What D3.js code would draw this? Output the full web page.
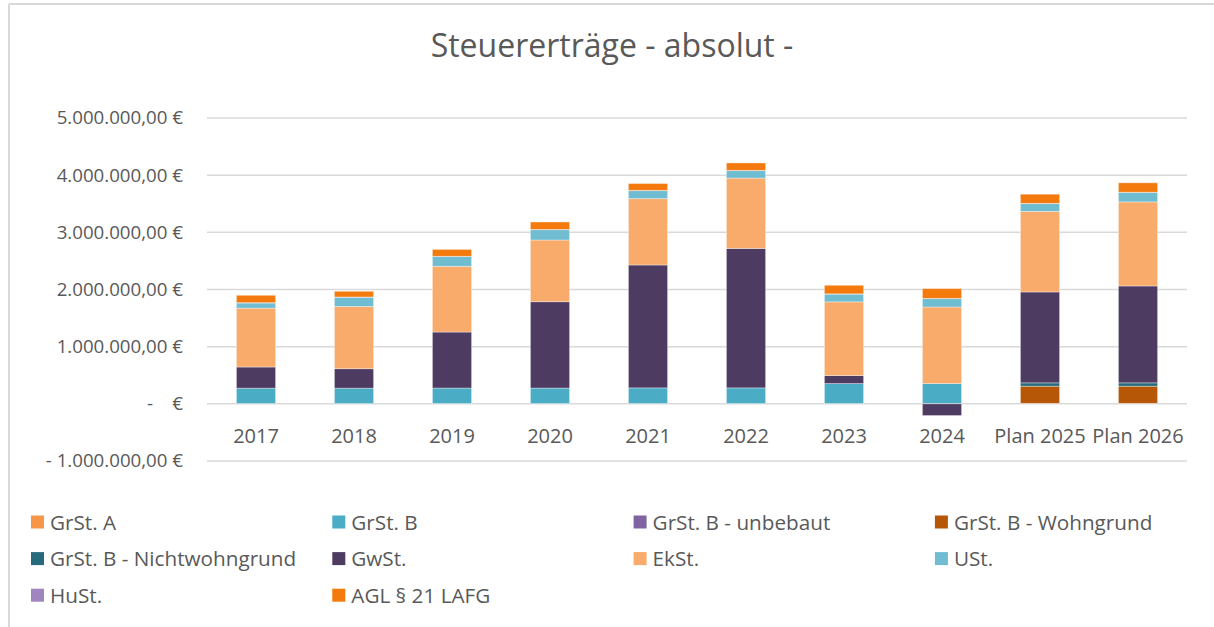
<!DOCTYPE html>
<html>
<head>
<meta charset="utf-8">
<script src="https://cdn.jsdelivr.net/npm/d3@7"></script>
<style>
  body { margin: 0; background: #fff; }
  text { font-family: "Open Sans", sans-serif; fill: #595959; white-space: pre; }
</style>
</head>
<body>
<script>
// categories and series (values in €)
var categories = ["2017", "2018", "2019", "2020", "2021", "2022", "2023", "2024", "Plan 2025", "Plan 2026"];

var grstA          = [4000, 4000, 4000, 4000, 4000, 4000, 4000, 4000, 4000, 4000];
var grstB          = [270000, 270000, 272000, 272000, 275000, 275000, 350000, 350000, 0, 0];
var grstBUnbebaut  = [0, 0, 0, 0, 0, 0, 0, 0, 5000, 5000];
var grstBWohn      = [0, 0, 0, 0, 0, 0, 0, 0, 300000, 300000];
var grstBNichtwohn = [0, 0, 0, 0, 0, 0, 0, 0, 58000, 58000];
var gwst           = [370000, 340000, 980000, 1510000, 2150000, 2440000, 140000, -205000, 1590000, 1695000];
var ekst           = [1030000, 1090000, 1150000, 1080000, 1160000, 1230000, 1290000, 1340000, 1410000, 1470000];
var ust            = [90000, 160000, 170000, 180000, 140000, 130000, 135000, 146000, 135000, 165000];
var hust           = [5000, 5000, 5000, 5000, 5000, 5000, 5000, 5000, 5000, 5000];
var agl            = [130000, 100000, 120000, 130000, 120000, 130000, 150000, 170000, 160000, 164000];

var seriesNames = ["GrSt. A", "GrSt. B", "GrSt. B - unbebaut", "GrSt. B - Wohngrund",
                   "GrSt. B - Nichtwohngrund", "GwSt.", "EkSt.", "USt.", "HuSt.", "AGL § 21 LAFG"];
var seriesValues = [grstA, grstB, grstBUnbebaut, grstBWohn, grstBNichtwohn, gwst, ekst, ust, hust, agl];
var colors = ["#f79646", "#4bacc6", "#8064a2", "#b65708", "#276a7c",
              "#4d3b62", "#f8ab6b", "#70bcd1", "#9f86be", "#f47a0e"];

var yTicks = [5000000, 4000000, 3000000, 2000000, 1000000, 0, -1000000];
var yTickLabels = ["5.000.000,00 €", "4.000.000,00 €", "3.000.000,00 €", "2.000.000,00 €",
                   "1.000.000,00 €", "-    €", "- 1.000.000,00 €"];

var W = 1214, H = 627;
var plot = {left: 207, right: 1187, top: 118, bottom: 461};

var svg = d3.select("body").append("svg")
    .attr("width", W)
    .attr("height", H);

// chart frame (only top + left edges are visible)
svg.append("line").attr("x1", 9).attr("y1", 4).attr("x2", W).attr("y2", 4)
   .attr("stroke", "#d9d9d9").attr("stroke-width", 2);
svg.append("line").attr("x1", 9).attr("y1", 4).attr("x2", 9).attr("y2", H)
   .attr("stroke", "#d9d9d9").attr("stroke-width", 2);

// title
svg.append("text")
    .attr("x", 612).attr("y", 57)
    .attr("text-anchor", "middle")
    .style("font-size", "32px")
    .text("Steuererträge - absolut -");

var x = d3.scaleBand().domain(categories).range([plot.left, plot.right]).padding(0);
var y = d3.scaleLinear().domain([-1000000, 5000000]).range([plot.bottom, plot.top]);

// gridlines
svg.append("g").selectAll("line")
    .data(yTicks)
    .enter().append("line")
    .attr("x1", plot.left).attr("x2", plot.right)
    .attr("y1", function(d) { return y(d); })
    .attr("y2", function(d) { return y(d); })
    .attr("stroke", "#d9d9d9")
    .attr("stroke-width", 1.5);

// y axis labels
var yAxis = svg.append("g")
    .attr("transform", "translate(" + (plot.left - 24) + ",0)")
    .call(d3.axisLeft(y).tickValues(yTicks).tickSize(0)
          .tickFormat(function(d, i) { return yTickLabels[i]; }));
yAxis.select(".domain").remove();
yAxis.selectAll("text")
    .attr("x", 0)
    .style("font-size", "18.7px")
    .attr("fill", "#595959");

// stacked data
var rows = categories.map(function(c, i) {
    var r = {cat: c};
    seriesNames.forEach(function(s, k) { r[s] = seriesValues[k][i]; });
    return r;
});
var stacked = d3.stack().keys(seriesNames).offset(d3.stackOffsetDiverging)(rows);

var barW = x.bandwidth() * 0.4;
svg.append("g").selectAll("g")
    .data(stacked)
    .enter().append("g")
    .attr("fill", function(d, k) { return colors[k]; })
    .selectAll("rect")
    .data(function(d) { return d; })
    .enter().append("rect")
    .attr("x", function(d) { return x(d.data.cat) + (x.bandwidth() - barW) / 2; })
    .attr("y", function(d) { return y(Math.max(d[0], d[1])); })
    .attr("width", barW)
    .attr("height", function(d) { return Math.abs(y(d[0]) - y(d[1])); })
    .attr("stroke", "#ffffff")
    .attr("stroke-opacity", 0.45)
    .attr("stroke-width", 0.8);

// x labels, sitting under the zero line
svg.append("g").selectAll("text")
    .data(categories)
    .enter().append("text")
    .attr("x", function(d) { return x(d) + x.bandwidth() / 2; })
    .attr("y", y(0) + 39)
    .attr("text-anchor", "middle")
    .style("font-size", "20px")
    .text(function(d) { return d; });

// legend, 4 columns
var legend = svg.append("g").selectAll("g")
    .data(seriesNames)
    .enter().append("g")
    .attr("transform", function(d, i) {
        return "translate(" + (31 + (i % 4) * 301.3) + "," + (522 + Math.floor(i / 4) * 36.6) + ")";
    });
legend.append("rect")
    .attr("x", 0).attr("y", -6.5)
    .attr("width", 13).attr("height", 13)
    .attr("fill", function(d, i) { return colors[i]; });
legend.append("text")
    .attr("x", 19).attr("y", 7.5)
    .style("font-size", "20.7px")
    .text(function(d) { return d; });
</script>
</body>
</html>
